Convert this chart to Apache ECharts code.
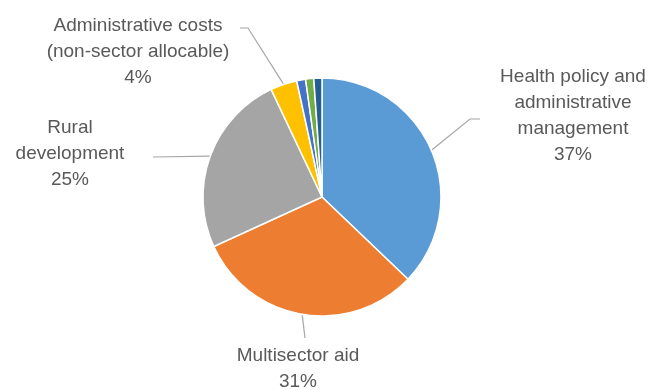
<!DOCTYPE html>
<html>
<head>
<meta charset="utf-8">
<script src="https://cdn.jsdelivr.net/npm/echarts@6/dist/echarts.min.js"></script>
<style>
  html, body { margin: 0; padding: 0; background: #fff; }
  #chart { width: 653px; height: 390px; }
</style>
</head>
<body>
<div id="chart"></div>
<script>
// Sector shares of the allocation (percent)
const sectors = [
  'Health policy and\nadministrative\nmanagement',
  'Multisector aid',
  'Rural\ndevelopment',
  'Administrative costs\n(non-sector allocable)',
  'Other sector A',
  'Other sector B',
  'Other sector C'
];
const shares = [37.0, 30.9, 24.7, 3.6, 1.2, 1.1, 1.1];
const sliceColors = ['#5B9BD5', '#ED7D31', '#A5A5A5', '#FFC000', '#4472C4', '#70AD47', '#255E91'];
const labelled = [true, true, true, true, false, false, false];

// Where each visible label block sits, and the elbow of its leader line
const labelSpots = {
  0: { x: 573, y: 116, elbow: [470, 119], end: [480, 119] },
  1: { x: 298, y: 369, elbow: null, end: [305, 338] },
  2: { x: 70,  y: 154, elbow: null, end: [153, 157] },
  3: { x: 138, y: 52,  elbow: [248, 28], end: [240, 28] }
};

const chart = echarts.init(document.getElementById('chart'));

const data = sectors.map((name, i) => ({
  name: name,
  value: shares[i],
  itemStyle: { color: sliceColors[i] },
  label: { show: labelled[i] },
  labelLine: { show: labelled[i] }
}));

chart.setOption({
  animation: false,
  backgroundColor: '#ffffff',
  series: [{
    type: 'pie',
    center: [322, 197],
    radius: 119,
    startAngle: 90,
    clockwise: true,
    data: data,
    itemStyle: { borderColor: '#ffffff', borderWidth: 1.5 },
    label: {
      position: 'outside',
      color: '#595959',
      fontFamily: 'Liberation Sans',
      fontSize: 19,
      lineHeight: 26,
      align: 'center',
      formatter: p => p.name + '\n' + Math.round(p.percent) + '%'
    },
    labelLine: {
      lineStyle: { color: '#A6A6A6', width: 1.2 },
      length: 10,
      length2: 10
    },
    labelLayout: function (params) {
      const spot = labelSpots[params.dataIndex];
      if (!spot) return {};
      const start = params.labelLinePoints ? params.labelLinePoints[0] : null;
      const pts = [];
      if (start) pts.push(start);
      if (spot.elbow) pts.push(spot.elbow);
      pts.push(spot.end);
      return {
        x: spot.x,
        y: spot.y,
        align: 'center',
        verticalAlign: 'middle',
        labelLinePoints: pts
      };
    }
  }]
});
</script>
</body>
</html>
